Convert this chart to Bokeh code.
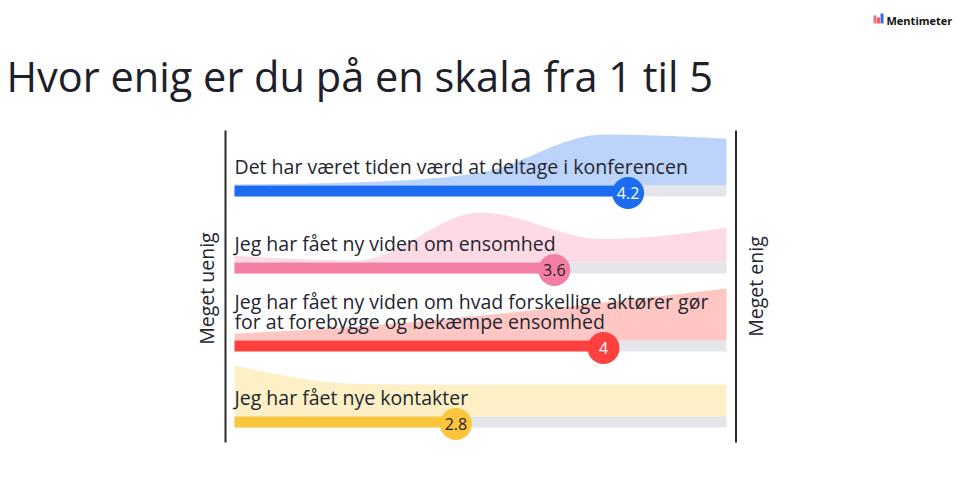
import numpy as np
from bokeh.plotting import figure
from bokeh.models import Range1d
from bokeh.core.properties import value
from bokeh.embed import file_html
from bokeh.resources import INLINE

# ---------------- data ----------------
title = "Hvor enig er du på en skala fra 1 til 5"
statements = [
    ["Det har været tiden værd at deltage i konferencen"],
    ["Jeg har fået ny viden om ensomhed"],
    ["Jeg har fået ny viden om hvad forskellige aktører gør",
     "for at forebygge og bekæmpe ensomhed"],
    ["Jeg har fået nye kontakter"],
]
averages = [4.2, 3.6, 4.0, 2.8]
avg_labels = ["4.2", "3.6", "4", "2.8"]
scale_options = [1, 2, 3, 4, 5]
# relative distribution heights for options 1..5 (max ~ 1)
dist_1 = [0.02, 0.06, 0.25, 0.98, 0.90]
dist_2 = [0.13, 0.04, 0.96, 0.45, 0.67]
dist_3 = [0.13, 0.27, 0.48, 0.73, 1.00]
dist_4 = [0.98, 0.63, 0.61, 0.61, 0.61]
distributions = [dist_1, dist_2, dist_3, dist_4]
low_label = "Meget uenig"
high_label = "Meget enig"
brand = "Mentimeter"

# ---------------- style / layout ----------------
bar_colors = ["#1c6cf2", "#f57ea3", "#fe413e", "#fbc53c"]
area_colors = ["#bcd4fb", "#fddae4", "#ffc6c4", "#fdefc6"]
num_colors = ["white", "#1e2029", "white", "#1e2029"]
track_color = "#e4e6e9"
text_color = "#23262e"
FONT = "Open Sans"

W, H = 964, 483
PX_PER_UNIT = 123.0
x0 = 1 - 234 / PX_PER_UNIT
x1 = x0 + W / PX_PER_UNIT


def sx(px):
    """screen x (px) -> data x"""
    return x0 + px / PX_PER_UNIT


bar_tops = [185, 262, 340, 416]
bar_h = 11
area_max_px = 52

p = figure(width=W, height=H, output_backend="svg", toolbar_location=None,
           x_range=Range1d(x0, x1), y_range=Range1d(H, 0),
           min_border=0, min_border_left=0, min_border_right=0,
           min_border_top=0, min_border_bottom=0)
p.axis.visible = False
p.grid.visible = False
p.outline_line_color = None
p.background_fill_color = "white"
p.border_fill_color = "white"


def monotone(xs, ys, n=200):
    xs = np.asarray(xs, float)
    ys = np.asarray(ys, float)
    h = np.diff(xs)
    s = np.diff(ys) / h
    m = np.zeros_like(ys)
    for k in range(1, len(ys) - 1):
        pk = (s[k - 1] * h[k] + s[k] * h[k - 1]) / (h[k - 1] + h[k])
        m[k] = (np.sign(s[k - 1]) + np.sign(s[k])) * min(abs(s[k - 1]), abs(s[k]), 0.5 * abs(pk))
    m[0] = (3 * s[0] - m[1]) / 2
    m[-1] = (3 * s[-1] - m[-2]) / 2
    xx = np.linspace(xs[0], xs[-1], n)
    yy = np.empty_like(xx)
    for i, xv in enumerate(xx):
        k = min(int(np.searchsorted(xs, xv, side="right") - 1), len(xs) - 2)
        t = (xv - xs[k]) / h[k]
        h00 = 2 * t**3 - 3 * t**2 + 1
        h10 = t**3 - 2 * t**2 + t
        h01 = -2 * t**3 + 3 * t**2
        h11 = t**3 - t**2
        yy[i] = h00 * ys[k] + h10 * h[k] * m[k] + h01 * ys[k + 1] + h11 * h[k] * m[k + 1]
    return xx, yy


for i, (dist, avg) in enumerate(zip(distributions, averages)):
    top = bar_tops[i]
    xx, yy = monotone(scale_options, dist)
    yy = np.clip(yy, 0, None)
    p.varea(x=xx, y1=np.full_like(xx, top), y2=top - yy * area_max_px,
            fill_color=area_colors[i])
    # track
    p.hbar(y=[top + bar_h / 2], left=[scale_options[0]], right=[scale_options[-1]],
           height=bar_h, fill_color=track_color, line_color=None)
    # value bar
    p.hbar(y=[top + bar_h / 2], left=[scale_options[0]], right=[avg],
           height=bar_h, fill_color=bar_colors[i], line_color=None)
    # circle
    cy = top + bar_h / 2 + 2
    p.scatter(x=[avg], y=[cy], size=32, fill_color=bar_colors[i], line_color=None)
    p.text(x=[avg], y=[cy], text=[avg_labels[i]], text_align="center",
           text_baseline="middle", text_font=value(FONT), text_font_size="16px",
           text_color=num_colors[i])
    # statement text
    lines = statements[i]
    n = len(lines)
    for j, line in enumerate(lines):
        base = top - 19 - (n - 1 - j) * 20
        p.text(x=[scale_options[0]], y=[base], text=[line], text_align="left",
               text_baseline="alphabetic", text_font=value(FONT),
               text_font_size="19.5px", text_color=text_color)

# vertical boundary lines
p.segment(x0=[sx(225), sx(735.5)], y0=[130, 130], x1=[sx(225), sx(735.5)], y1=[442, 442],
          line_color="#2a2a2a", line_width=2)

# rotated end labels
p.text(x=[sx(206)], y=[288], text=[low_label], angle=np.pi / 2, text_align="center",
       text_baseline="middle", text_font=value(FONT), text_font_size="19.5px",
       text_color=text_color)
p.text(x=[sx(755)], y=[286], text=[high_label], angle=np.pi / 2, text_align="center",
       text_baseline="middle", text_font=value(FONT), text_font_size="19.5px",
       text_color=text_color)

# title
p.text(x=[sx(6)], y=[75], text=[title], text_align="left", text_baseline="alphabetic",
       text_font=value(FONT), text_font_size="41.5px", text_color="#1e2029")

# Mentimeter logo
p.quad(left=[sx(873), sx(876.5), sx(880)], right=[sx(876), sx(879.5), sx(883)],
       top=[15, 17, 13], bottom=[23, 23, 23],
       fill_color=["#f56b8c", "#ff5a4a", "#2c6cf0"], line_color=None)
p.text(x=[sx(886)], y=[20], text=[brand], text_align="left",
       text_baseline="alphabetic", text_font=value(FONT), text_font_size="11px",
       text_font_style="bold", text_color="#111111")

open("out.html", "w").write(file_html(p, INLINE))
